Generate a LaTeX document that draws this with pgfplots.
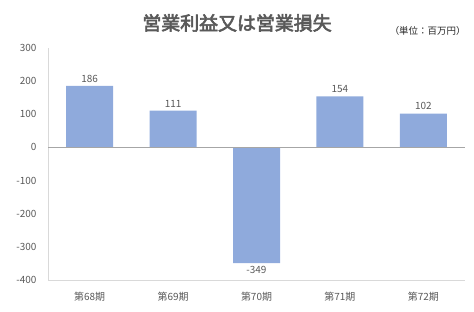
\documentclass[border=0pt]{standalone}
\usepackage{pgfplots}
\pgfplotsset{compat=1.18}
\usepackage{fontspec}
\setmainfont{Noto Sans CJK JP}
\newfontfamily\titlefont[FakeBold=3]{Noto Sans CJK JP}
\definecolor{barblue}{HTML}{8FAADC}
\definecolor{txtgray}{HTML}{595959}
\definecolor{axgray}{HTML}{D9D9D9}
\definecolor{zerogray}{HTML}{A6A6A6}
\begin{document}
\begin{tikzpicture}[x=1bp,y=1bp]
\useasboundingbox (0,0) rectangle (474,311);
\begin{axis}[
  at={(48bp,31bp)}, anchor=south west,
  scale only axis, width=417bp, height=232bp,
  ybar, bar width=47bp,
  xmin=-0.5, xmax=4.5,
  ymin=-400, ymax=300,
  ytick={-400,-300,...,300},
  xtick={0,1,2,3,4},
  xticklabels={第68期,第69期,第70期,第71期,第72期},
  axis x line*=bottom, axis y line*=left,
  axis line style={axgray, line width=0.8pt},
  x axis line style={-}, y axis line style={-},
  major tick length=0pt,
  tick style={draw=none},
  /pgf/number format/assume math mode=true,
  yticklabel style={font=\fontsize{10}{11}\selectfont, text=txtgray, xshift=-8bp},
  xticklabel style={font=\fontsize{10}{11}\selectfont, text=txtgray, yshift=-9bp},
  nodes near coords,
  nodes near coords align={vertical},
  every node near coord/.append style={font=\fontsize{10}{11}\selectfont, text=txtgray},
  clip=false,
]
\addplot[fill=barblue, draw=none] coordinates {(0,186) (1,111) (2,-349) (3,154) (4,102)};
\draw[zerogray, line width=0.8pt] (axis cs:-0.5,0) -- (axis cs:4.5,0);
\end{axis}
\node[font=\fontsize{19}{21}\selectfont\titlefont, text=txtgray] at (237,288) {営業利益又は営業損失};
\node[font=\fontsize{9.5}{11}\selectfont, text=black!85, anchor=east] at (469,280) {（単位：百万円）};
\end{tikzpicture}
\end{document}
